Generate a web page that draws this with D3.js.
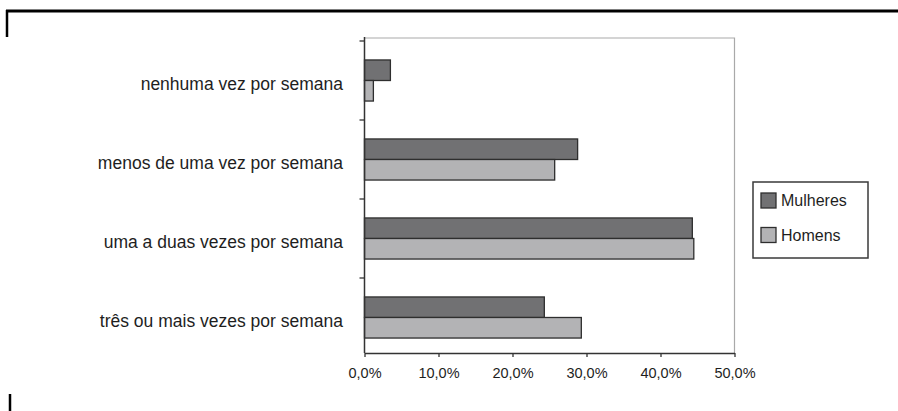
<!DOCTYPE html>
<html>
<head>
<meta charset="utf-8">
<script src="https://cdn.jsdelivr.net/npm/d3@7"></script>
<style>
  html, body { margin: 0; padding: 0; background: #fff; }
  svg { display: block; font-family: "Liberation Sans", Arial, Helvetica, sans-serif; }
</style>
</head>
<body>
<svg id="chart" width="898" height="411"></svg>
<script>
// Frequência semanal, por sexo (%)
const categories = [
  "nenhuma vez por semana",
  "menos de uma vez por semana",
  "uma a duas vezes por semana",
  "três ou mais vezes por semana"
];
const seriesNames = ["Mulheres", "Homens"];
const mulheres = [3.5, 28.8, 44.3, 24.3];
const homens = [1.2, 25.7, 44.5, 29.3];
const xTicks = [0, 10, 20, 30, 40, 50];
const seriesColors = ["#717173", "#b3b3b5"];

const svg = d3.select("#chart");

// page frame marks
svg.append("path").attr("d", "M6,11 H898").attr("stroke", "#000").attr("stroke-width", 3).attr("fill", "none");
svg.append("path").attr("d", "M7,10 V37").attr("stroke", "#000").attr("stroke-width", 2.5).attr("fill", "none");
svg.append("path").attr("d", "M10,394 V411").attr("stroke", "#000").attr("stroke-width", 2.5).attr("fill", "none");

const plot = { left: 364.5, right: 734.5, top: 38, bottom: 353 };

const x = d3.scaleLinear().domain([0, 50]).range([plot.left, plot.right]);

const y = d3.scaleBand()
  .domain(categories)
  .range([41, 357])
  .paddingInner(0.48)
  .paddingOuter(0.24);

const ySub = d3.scaleBand().domain(seriesNames).range([0, y.bandwidth()]);

// plot frame (top and right, light gray)
svg.append("path")
  .attr("d", `M${plot.left},${plot.top} H${plot.right} V${plot.bottom}`)
  .attr("fill", "none").attr("stroke", "#a9a9a9").attr("stroke-width", 1.2);

const values = [mulheres, homens];

const groups = svg.append("g").selectAll("g")
  .data(categories)
  .join("g")
  .attr("transform", d => `translate(0,${y(d)})`);

groups.selectAll("rect")
  .data((c, i) => seriesNames.map((s, j) => ({ s, v: values[j][i], color: seriesColors[j] })))
  .join("rect")
  .attr("x", x(0))
  .attr("y", d => ySub(d.s))
  .attr("width", d => x(d.v) - x(0))
  .attr("height", ySub.bandwidth())
  .attr("fill", d => d.color)
  .attr("stroke", "#2e2e2e")
  .attr("stroke-width", 1.3);

// y axis line and boundary ticks
const step = y.step();
const r0 = y.range()[0];
const boundaries = d3.range(categories.length).map(i => r0 + i * step);
svg.append("line")
  .attr("x1", plot.left).attr("x2", plot.left)
  .attr("y1", plot.top - 1).attr("y2", plot.bottom)
  .attr("stroke", "#333").attr("stroke-width", 1.5);
svg.append("g").selectAll("line")
  .data(boundaries)
  .join("line")
  .attr("x1", plot.left - 5).attr("x2", plot.left)
  .attr("y1", d => d).attr("y2", d => d)
  .attr("stroke", "#333").attr("stroke-width", 1.3);

// category labels
svg.append("g").selectAll("text")
  .data(categories)
  .join("text")
  .attr("x", 343)
  .attr("y", d => y(d) + y.bandwidth() / 2 + 3)
  .attr("dy", "0.35em")
  .attr("text-anchor", "end")
  .attr("font-size", 17.5)
  .attr("fill", "#1e1e1e")
  .text(d => d);

// x axis
const fmt = v => d3.format(".1f")(v).replace(".", ",") + "%";
const xAxis = d3.axisBottom(x).tickValues(xTicks).tickFormat(fmt).tickSize(4).tickSizeOuter(0);
const gx = svg.append("g").attr("transform", `translate(0,${plot.bottom})`).call(xAxis);
gx.select(".domain").attr("stroke", "#333").attr("stroke-width", 1.5);
gx.selectAll(".tick line").attr("stroke", "#333").attr("stroke-width", 1.3);
gx.selectAll(".tick text")
  .attr("font-family", "'Liberation Sans', Arial, sans-serif")
  .attr("font-size", 14.5)
  .attr("fill", "#1e1e1e")
  .attr("dy", "1.25em");

// legend
const legend = svg.append("g").attr("transform", "translate(753,182)");
legend.append("rect")
  .attr("width", 115).attr("height", 76)
  .attr("fill", "#fff").attr("stroke", "#3a3a3a").attr("stroke-width", 1.5);
const items = legend.selectAll("g.item")
  .data(seriesNames)
  .join("g")
  .attr("class", "item")
  .attr("transform", (d, i) => `translate(8,${11 + i * 34.5})`);
items.append("rect")
  .attr("width", 15).attr("height", 15)
  .attr("fill", (d, i) => seriesColors[i])
  .attr("stroke", "#2e2e2e").attr("stroke-width", 1.3);
items.append("text")
  .attr("x", 20).attr("y", 7.5).attr("dy", "0.35em")
  .attr("font-size", 16)
  .attr("fill", "#1e1e1e")
  .text(d => d);
</script>
</body>
</html>
